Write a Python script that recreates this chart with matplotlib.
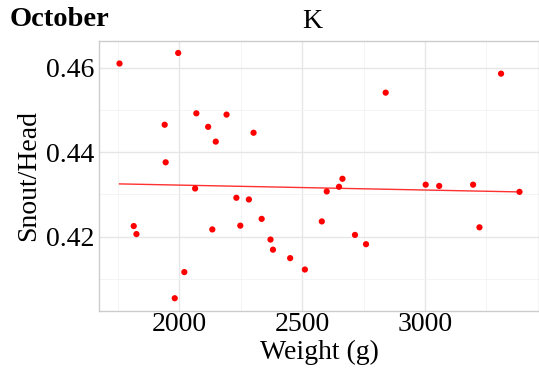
import numpy as np
import matplotlib
matplotlib.use("Agg")
import matplotlib.pyplot as plt
from matplotlib.ticker import MultipleLocator

# weight (g) and snout/head ratio, October sample
weight = [1756, 1995, 1940, 1944, 2069, 2117, 2148, 2192, 2302, 2064,
          2232, 2283, 1814, 1825, 2134, 2248, 2335, 2371, 2381, 2451,
          2511, 2020, 1981, 2840, 3310, 2664, 2650, 2600, 2580, 2715,
          2760, 3003, 3058, 3196, 3222, 3385]
snout_head = [0.4610, 0.4635, 0.4465, 0.4376, 0.4492, 0.4460, 0.4425, 0.4489,
              0.4446, 0.4314, 0.4292, 0.4288, 0.4225, 0.4206, 0.4217, 0.4226,
              0.4242, 0.4193, 0.4169, 0.4149, 0.4122, 0.4116, 0.4054, 0.4541,
              0.4586, 0.4337, 0.4318, 0.4307, 0.4236, 0.4204, 0.4182, 0.4323,
              0.4320, 0.4323, 0.4222, 0.4306]

x_ticks = [2000, 2500, 3000]
y_ticks = [0.42, 0.44, 0.46]

plt.rcParams["font.family"] = ["Liberation Serif", "DejaVu Serif"]

fig = plt.figure(figsize=(5.39, 3.70), dpi=100)
ax = fig.add_axes([0.1846, 0.1608, 0.8163, 0.7292])

x = np.array(weight)
y = np.array(snout_head)

# linear fit over the observed range
slope, intercept = np.polyfit(x, y, 1)
xs = np.array([x.min(), x.max()])
ax.plot(xs, slope * xs + intercept, color="#ff3030", lw=1.0, zorder=2)

ax.scatter(x, y, s=20, color="red", edgecolors="none", zorder=3)

ax.margins(0.05)
ax.set_xticks(x_ticks)
ax.set_yticks(y_ticks)
ax.set_yticklabels([f"{v:.2f}" for v in y_ticks])
ax.xaxis.set_minor_locator(MultipleLocator(250))
ax.yaxis.set_minor_locator(MultipleLocator(0.01))

ax.grid(which="major", color="#e6e6e6", lw=1.0, zorder=0)
ax.grid(which="minor", color="#f2f2f2", lw=0.6, zorder=0)
ax.set_axisbelow(True)

ax.tick_params(which="both", length=0, labelsize=20, colors="black")
ax.tick_params(axis="x", pad=1)
ax.tick_params(axis="y", pad=4)

for s in ax.spines.values():
    s.set_color("#cccccc")
    s.set_linewidth(1.0)

ax.set_xlabel("Weight (g)", fontsize=20, labelpad=2)
ax.set_ylabel("Snout/Head", fontsize=20, labelpad=3)

fig.text(10 / 539, 1 - 20 / 370, "October", fontsize=20.5, fontweight="bold",
         ha="left", va="center")
fig.text(312 / 539, 1 - 21 / 370, "K", fontsize=20, ha="center", va="center")

fig.savefig("out.png", dpi=100)
